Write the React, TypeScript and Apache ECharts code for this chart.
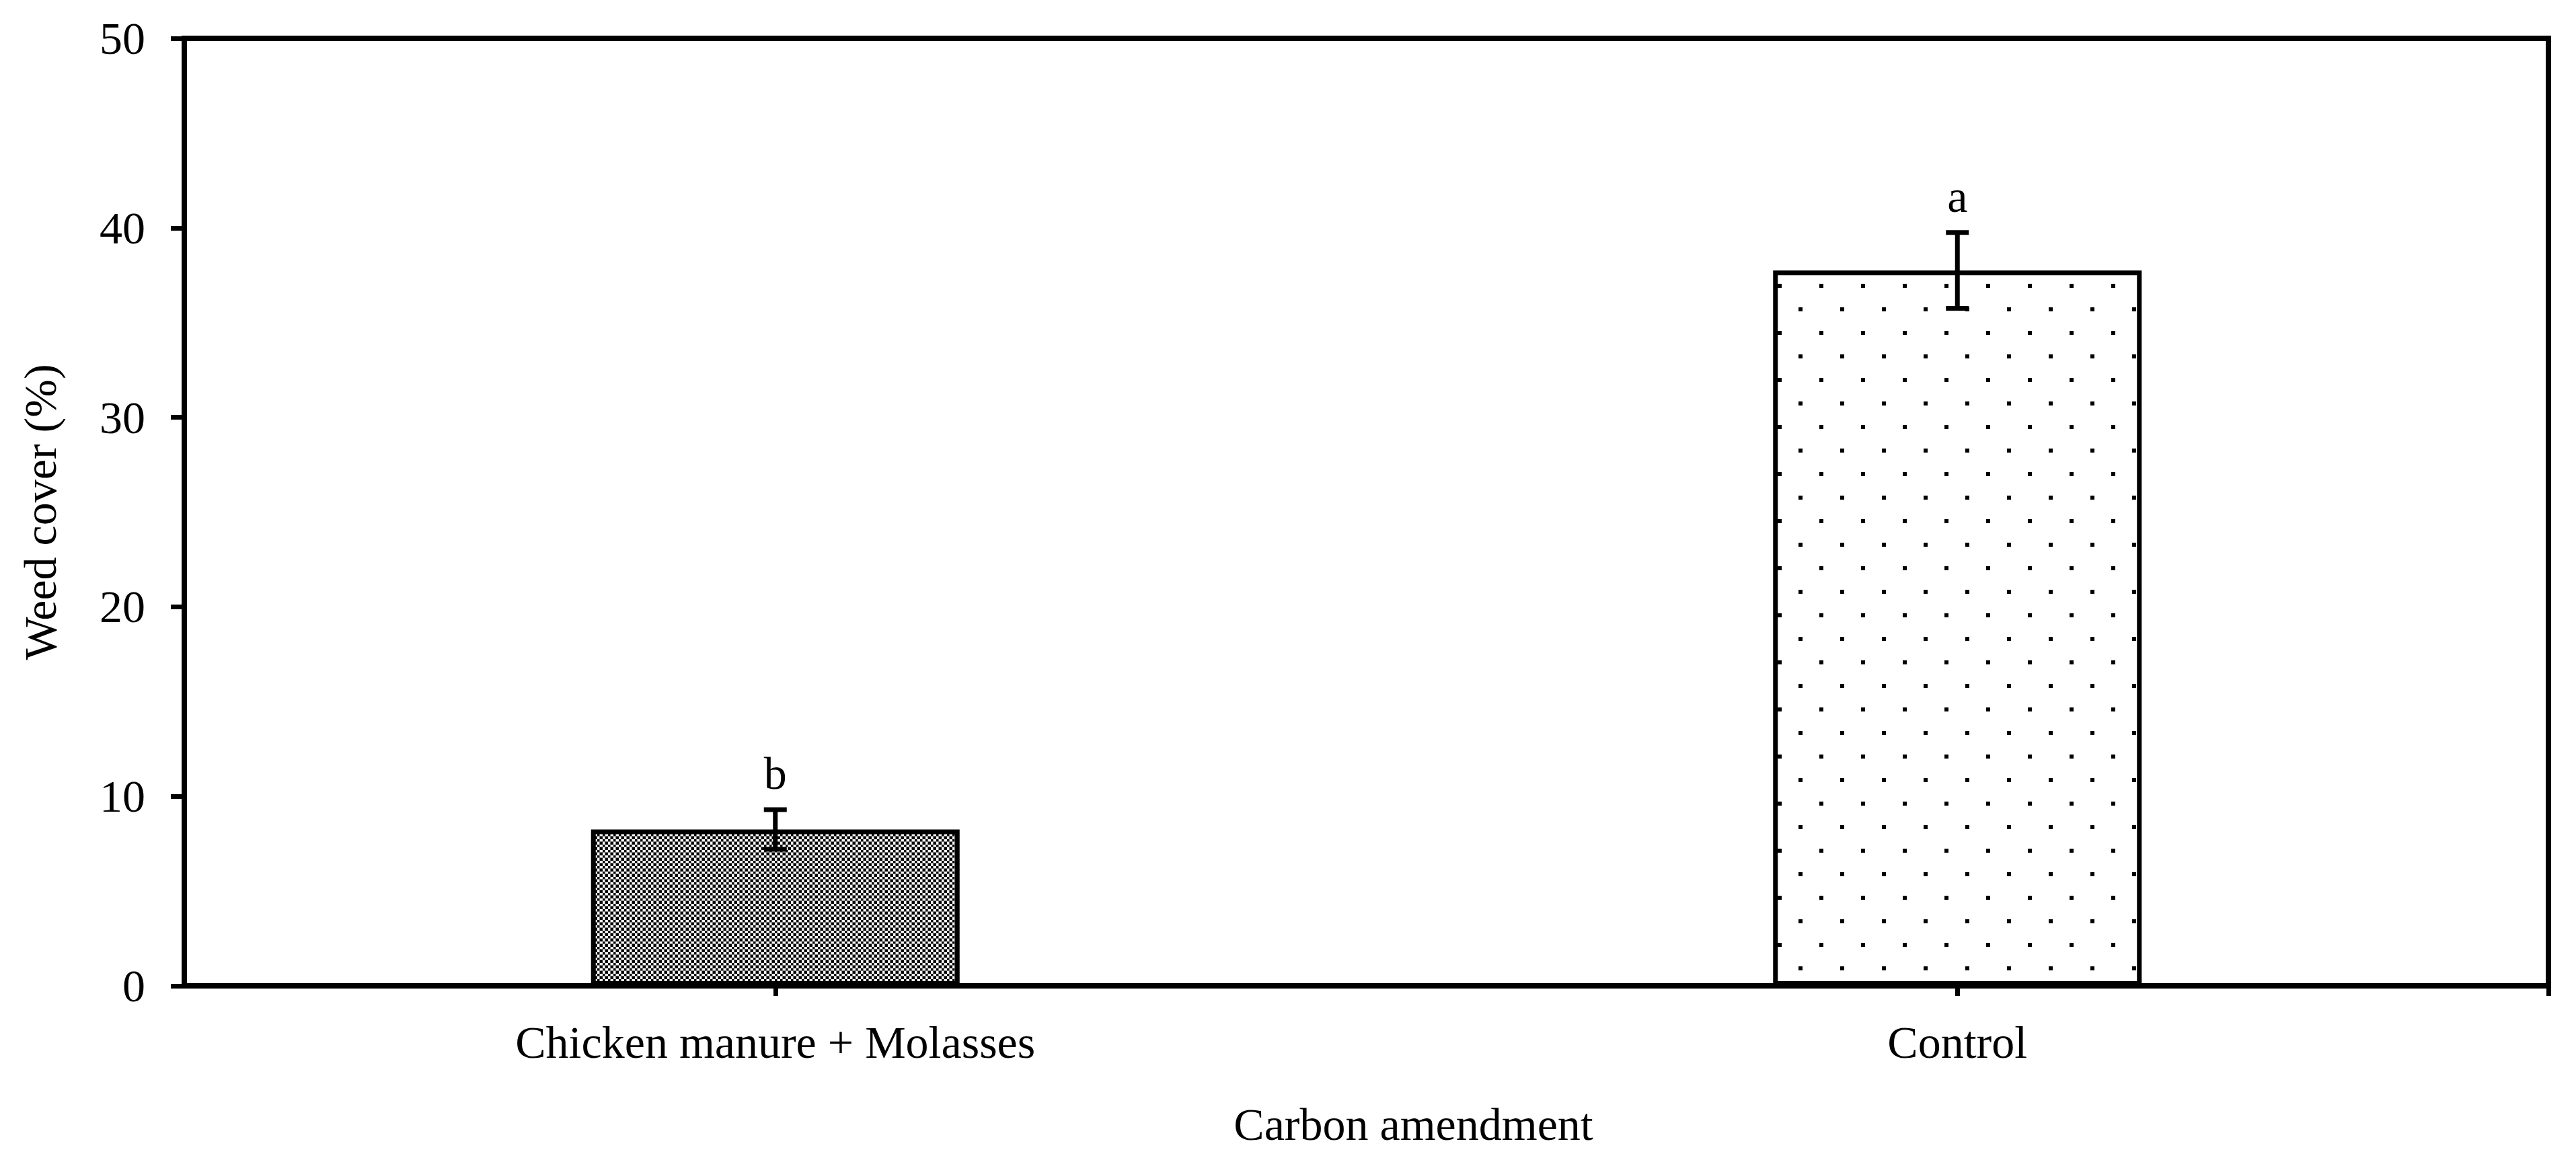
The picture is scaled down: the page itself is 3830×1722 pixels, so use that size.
import React, { useEffect, useRef } from "react";
import * as echarts from "echarts";

const categories = ["Chicken manure + Molasses", "Control"];
const weedCover = [8.25, 37.75];
const errors = [1.05, 2.0];
const letters = ["b", "a"];
const yTicks = { min: 0, max: 50, interval: 10 };

const FONT = '"Liberation Serif", "Times New Roman", serif';

function checkerPattern() {
  const c = document.createElement("canvas");
  c.width = 8;
  c.height = 8;
  const g = c.getContext("2d")!;
  g.fillStyle = "#ffffff";
  g.fillRect(0, 0, 8, 8);
  g.fillStyle = "#000000";
  g.fillRect(0, 0, 4, 4);
  g.fillRect(4, 4, 4, 4);
  g.fillStyle = "#7a7a7a";
  g.fillRect(3, 0, 1, 8);
  g.fillRect(0, 3, 8, 1);
  return { image: c.toDataURL(), repeat: "repeat", imageWidth: 8, imageHeight: 8 };
}

function dotPattern() {
  const c = document.createElement("canvas");
  c.width = 62;
  c.height = 70;
  const g = c.getContext("2d")!;
  g.fillStyle = "#ffffff";
  g.fillRect(0, 0, 62, 70);
  g.fillStyle = "#000000";
  g.fillRect(39, 2, 6, 6);
  g.fillRect(8, 37, 6, 6);
  return { image: c.toDataURL(), repeat: "repeat", imageWidth: 62, imageHeight: 70 };
}

export default function App() {
  const ref = useRef<HTMLDivElement>(null);
  useEffect(() => {
    document.body.style.margin = "0";
    document.body.style.overflow = "hidden";
    const chart = echarts.init(ref.current!, null, { renderer: "svg" });
    const patterns = [checkerPattern(), dotPattern()];
    chart.setOption({
      animation: false,
      backgroundColor: "#ffffff",
      grid: {
        left: 274,
        right: 41,
        top: 57,
        bottom: 256,
        show: true,
        borderColor: "#000",
        borderWidth: 8,
        containLabel: false,
      },
      xAxis: [
        {
          type: "category",
          data: categories,
          boundaryGap: true,
          name: "Carbon amendment",
          nameLocation: "middle",
          nameGap: 172,
          nameTextStyle: { fontFamily: FONT, fontSize: 68, color: "#000", padding: [0, 0, 0, 140] },
          axisLine: { show: true, lineStyle: { color: "#000", width: 8 } },
          axisTick: { show: true, alignWithLabel: true, length: 15, lineStyle: { color: "#000", width: 7 } },
          axisLabel: { fontFamily: FONT, fontSize: 68, color: "#000", margin: 50 },
          splitLine: { show: false },
        },
        {
          type: "value",
          min: 0,
          max: 1,
          position: "bottom",
          axisLine: { show: false },
          axisTick: { show: true, customValues: [1], length: 15, lineStyle: { color: "#000", width: 7 } },
          axisLabel: { show: false },
          splitLine: { show: false },
        },
      ],
      yAxis: {
        type: "value",
        min: yTicks.min,
        max: yTicks.max,
        interval: yTicks.interval,
        name: "Weed cover (%)",
        nameLocation: "middle",
        nameGap: 180,
        nameTextStyle: { fontFamily: FONT, fontSize: 68, color: "#000" },
        axisLine: { show: true, lineStyle: { color: "#000", width: 8 } },
        axisTick: { show: true, length: 20, lineStyle: { color: "#000", width: 7 } },
        axisLabel: { fontFamily: FONT, fontSize: 68, color: "#000", margin: 58 },
        splitLine: { show: false },
      },
      series: [
        {
          type: "bar",
          xAxisIndex: 0,
          barWidth: 548,
          data: weedCover.map((v, i) => ({
            value: v,
            itemStyle: { color: patterns[i] },
          })),
          itemStyle: { borderColor: "#000", borderWidth: 7 },
          emphasis: { disabled: true },
          z: 2,
        },
        {
          type: "custom",
          xAxisIndex: 0,
          data: weedCover.map((v, i) => [i, v, errors[i]]),
          z: 5,
          renderItem: (params: any, api: any) => {
            const i = api.value(0);
            const v = api.value(1);
            const e = api.value(2);
            const top = api.coord([i, v + e]);
            const bot = api.coord([i, v - e]);
            const cap = 17;
            const ls = { stroke: "#000", lineWidth: 7 };
            return {
              type: "group",
              children: [
                { type: "line", shape: { x1: top[0], y1: top[1], x2: bot[0], y2: bot[1] }, style: ls },
                { type: "line", shape: { x1: top[0] - cap, y1: top[1], x2: top[0] + cap, y2: top[1] }, style: ls },
                { type: "line", shape: { x1: bot[0] - cap, y1: bot[1], x2: bot[0] + cap, y2: bot[1] }, style: ls },
                {
                  type: "text",
                  style: {
                    text: letters[params.dataIndex],
                    x: top[0],
                    y: top[1] - 20,
                    align: "center",
                    verticalAlign: "bottom",
                    fontFamily: FONT,
                    fontSize: 68,
                    fill: "#000",
                  },
                },
              ],
            };
          },
        },
      ],
    });
    return () => chart.dispose();
  }, []);
  return <div ref={ref} style={{ width: 3830, height: 1722 }} />;
}
